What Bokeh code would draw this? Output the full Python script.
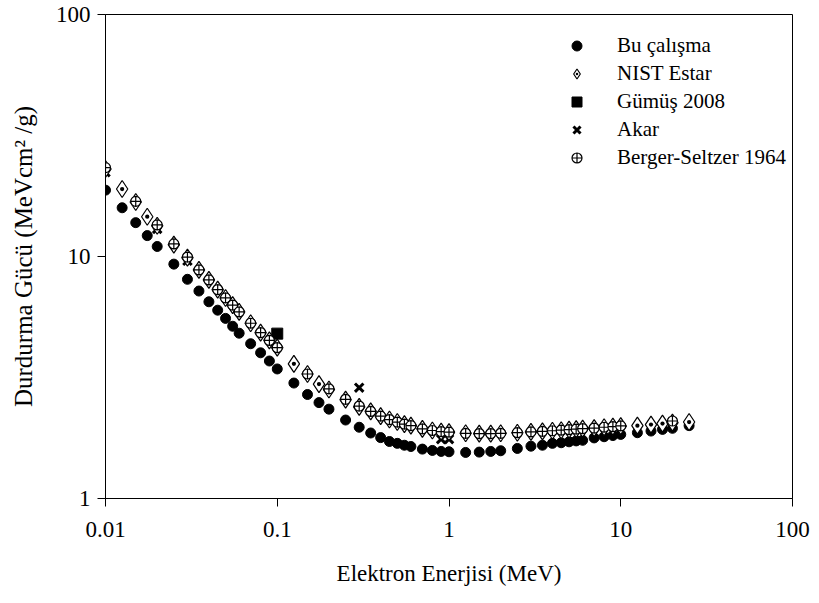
from bokeh.plotting import figure
from bokeh.models import (FixedTicker, CustomJSTickFormatter, Legend, LegendItem)
from bokeh.embed import file_html
from bokeh.resources import INLINE

# ---- data ----
energies = [0.01, 0.0125, 0.015, 0.0175, 0.02, 0.025, 0.03, 0.035, 0.04, 0.045, 0.05, 0.055,
            0.06, 0.07, 0.08, 0.09, 0.1, 0.125, 0.15, 0.175, 0.2, 0.25, 0.3, 0.35, 0.4, 0.45,
            0.5, 0.55, 0.6, 0.7, 0.8, 0.9, 1.0, 1.25, 1.5, 1.75, 2.0, 2.5, 3.0, 3.5, 4.0, 4.5,
            5.0, 5.5, 6.0, 7.0, 8.0, 9.0, 10.0, 12.5, 15.0, 17.5, 20.0, 25.0]

bu_y = [18.8, 15.9, 13.8, 12.2, 11.0, 9.3, 8.05, 7.2, 6.5, 6.0, 5.55, 5.15,
        4.82, 4.36, 4.0, 3.7, 3.43, 3.0, 2.69, 2.49, 2.34, 2.11, 1.97, 1.865, 1.785, 1.72,
        1.69, 1.66, 1.64, 1.60, 1.58, 1.565, 1.56, 1.55, 1.555, 1.565, 1.575, 1.61, 1.645, 1.66, 1.69, 1.70,
        1.715, 1.73, 1.74, 1.78, 1.80, 1.82, 1.84, 1.87, 1.90, 1.93, 1.95, 2.0]

nist_y = [23.0, 19.0, 16.8, 14.6, 13.4, 11.2, 9.9, 8.8, 8.0, 7.3, 6.74, 6.3,
          5.9, 5.3, 4.85, 4.5, 4.2, 3.6, 3.27, 2.97, 2.82, 2.56, 2.39, 2.29, 2.19, 2.12,
          2.07, 2.03, 2.0, 1.94, 1.91, 1.89, 1.88, 1.86, 1.855, 1.855, 1.86, 1.87, 1.885, 1.895, 1.905, 1.915,
          1.925, 1.935, 1.945, 1.955, 1.97, 1.98, 1.99, 2.0, 2.02, 2.04, 2.06, 2.07]

bs_x = [0.01, 0.015, 0.02, 0.025, 0.03, 0.035, 0.04, 0.045, 0.05, 0.055,
        0.06, 0.07, 0.08, 0.09, 0.1, 0.15, 0.2, 0.25, 0.3, 0.35, 0.4, 0.45,
        0.5, 0.55, 0.6, 0.7, 0.8, 0.9, 1.0, 1.25, 1.5, 1.75, 2.0, 2.5, 3.0, 3.5, 4.0, 4.5,
        5.0, 5.5, 6.0, 7.0, 8.0, 9.0, 10.0, 20.0]
bs_y = [23.3, 16.9, 13.5, 11.27, 9.95, 8.8, 8.0, 7.3, 6.74, 6.3,
        5.9, 5.3, 4.85, 4.5, 4.2, 3.27, 2.84, 2.57, 2.41, 2.29, 2.19, 2.12,
        2.07, 2.03, 2.0, 1.94, 1.91, 1.89, 1.88, 1.86, 1.855, 1.855, 1.86, 1.87, 1.885, 1.895, 1.905, 1.915,
        1.925, 1.935, 1.945, 1.955, 1.97, 1.98, 1.995, 2.09]

gumus_x = [0.1]
gumus_y = [4.8]

akar_x = [0.01, 0.02, 0.03, 0.3, 0.9, 1.0]
akar_y = [22.3, 13.0, 9.6, 2.87, 1.76, 1.76]

x_ticks = [0.01, 0.1, 1, 10, 100]
x_tick_labels = ["0.01", "0.1", "1", "10", "100"]
y_ticks = [1, 10, 100]
y_tick_labels = ["1", "10", "100"]

series_labels = ["Bu çalışma", "NIST Estar", "Gümüş 2008", "Akar", "Berger-Seltzer 1964"]
x_title = "Elektron Enerjisi (MeV)"
y_title = "Durdurma Gücü (MeVcm² /g)"

FONT = "'Liberation Serif', serif"

p = figure(width=811, height=595, x_axis_type="log", y_axis_type="log",
           x_range=(0.01, 100), y_range=(1, 100),
           output_backend="svg", toolbar_location=None,
           min_border_left=105, min_border_right=19, min_border_top=14, min_border_bottom=97)

p.xgrid.visible = False
p.ygrid.visible = False
p.outline_line_color = "black"
p.outline_line_width = 1
p.background_fill_color = "white"
p.border_fill_color = "white"

fmt_code = """
let best = 0; let d = Infinity;
for (let i = 0; i < tvals.length; i++) {
  const e = Math.abs(Math.log10(tick) - Math.log10(tvals[i]));
  if (e < d) { d = e; best = i; }
}
return tlabels[best];
"""
p.xaxis.ticker = FixedTicker(ticks=x_ticks)
p.yaxis.ticker = FixedTicker(ticks=y_ticks)
p.xaxis.formatter = CustomJSTickFormatter(args=dict(tvals=x_ticks, tlabels=x_tick_labels), code=fmt_code)
p.yaxis.formatter = CustomJSTickFormatter(args=dict(tvals=y_ticks, tlabels=y_tick_labels), code=fmt_code)

for ax in (p.xaxis[0], p.yaxis[0]):
    ax.axis_line_color = "black"
    ax.axis_line_width = 1
    ax.major_tick_in = 0
    ax.major_tick_out = 8
    ax.major_tick_line_color = "black"
    ax.minor_tick_line_color = None
    ax.major_label_text_font = FONT
    ax.major_label_text_font_size = "23px"
    ax.major_label_text_color = "black"
    ax.axis_label_text_font = FONT
    ax.axis_label_text_font_style = "normal"
    ax.axis_label_text_color = "black"

p.xaxis.axis_label_text_font_size = "23px"
p.yaxis.axis_label_text_font_size = "25px"
p.xaxis.axis_label = x_title
p.yaxis.axis_label = y_title
p.xaxis.major_label_standoff = 15
p.yaxis.major_label_standoff = 7
p.xaxis.axis_label_standoff = 21
p.yaxis.axis_label_standoff = 16

r_bu = p.scatter(energies, bu_y, marker="circle", size=10, fill_color="black", line_color="black")
r_gu = p.scatter(gumus_x, gumus_y, marker="square", size=11, fill_color="black", line_color="black")
r_ak = p.scatter(akar_x, akar_y, marker="x", size=12, line_color="black", line_width=3)
r_ni = p.scatter(energies, nist_y, marker="diamond_dot", size=17, fill_color="white", line_color="black", line_width=1.2)
r_bs = p.scatter(bs_x, bs_y, marker="circle_cross", size=10, fill_color="white", line_color="black", line_width=1.2)

legend = Legend(items=[
    LegendItem(label=series_labels[0], renderers=[r_bu]),
    LegendItem(label=series_labels[1], renderers=[r_ni]),
    LegendItem(label=series_labels[2], renderers=[r_gu]),
    LegendItem(label=series_labels[3], renderers=[r_ak]),
    LegendItem(label=series_labels[4], renderers=[r_bs]),
], location=(459, 328))
legend.border_line_color = None
legend.background_fill_alpha = 0
legend.padding = 0
legend.margin = 0
legend.glyph_width = 25
legend.glyph_height = 25
legend.label_height = 25
legend.spacing = 3
legend.label_standoff = 28
legend.label_text_font = FONT
legend.label_text_font_size = "21px"
legend.label_text_color = "black"
p.add_layout(legend, "center")

open("out.html", "w").write(file_html(p, INLINE))
